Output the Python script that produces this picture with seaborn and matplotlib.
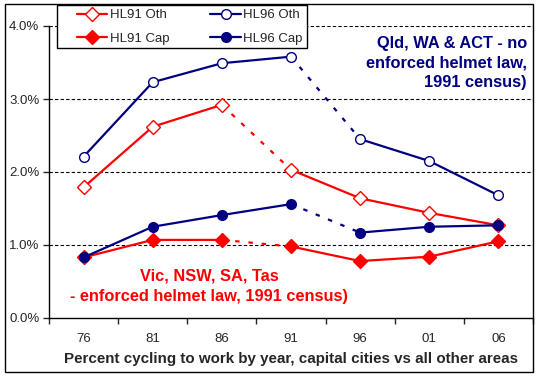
import pandas as pd
import matplotlib
matplotlib.use('Agg')
import matplotlib.pyplot as plt
from matplotlib.lines import Line2D
from matplotlib.patches import Rectangle
import seaborn as sns

# census years and percent cycling to work
years = ['76', '81', '86', '91', '96', '01', '06']
hl91_oth = [1.79, 2.62, 2.92, 2.03, 1.64, 1.44, 1.27]
hl96_oth = [2.21, 3.23, 3.49, 3.58, 2.45, 2.15, 1.68]
hl91_cap = [0.83, 1.07, 1.07, 0.98, 0.78, 0.84, 1.05]
hl96_cap = [0.83, 1.25, 1.41, 1.56, 1.17, 1.25, 1.27]

RED = '#ff0000'
NAVY = '#000080'

sns.set_style('white')
plt.rcParams['font.family'] = ['Liberation Sans', 'DejaVu Sans']

W, H = 539, 379
fig = plt.figure(figsize=(W / 100, H / 100), dpi=100)
ax = fig.add_axes([49 / W, 1 - 318 / H, 484 / W, 292 / H])

pos = list(range(len(years)))

# (name, values, colour, marker, filled, index where the dashed gap starts)
series = [
    ('HL91 Oth', hl91_oth, RED, 'D', False, 2),
    ('HL91 Cap', hl91_cap, RED, 'D', True, 2),
    ('HL96 Oth', hl96_oth, NAVY, 'o', False, 3),
    ('HL96 Cap', hl96_cap, NAVY, 'o', True, 3),
]

handles = []
for name, vals, col, mk, filled, gap in series:
    df = pd.DataFrame({'pos': pos, 'val': vals})
    mfc = col if filled else 'white'
    kw = dict(color=col, lw=1.6, marker=mk, markersize=7,
              markerfacecolor=mfc, markeredgecolor=col, markeredgewidth=1.0)
    sns.lineplot(data=df.iloc[:gap + 1], x='pos', y='val', ax=ax, zorder=3, **kw)
    sns.lineplot(data=df.iloc[gap:gap + 2], x='pos', y='val', ax=ax, color=col,
                 lw=1.6, linestyle=(0, (2, 4)), zorder=2)
    sns.lineplot(data=df.iloc[gap + 1:], x='pos', y='val', ax=ax, zorder=3, **kw)
    handles.append(Line2D([], [], label=name, **kw))

ax.set_xlim(-0.5, len(years) - 0.5)
ax.set_ylim(0, 4)
ax.set_yticks([0, 1, 2, 3, 4])
ax.set_yticklabels(['0.0%', '1.0%', '2.0%', '3.0%', '4.0%'])
ax.set_xticks(pos)
ax.set_xticklabels(years)
ax.set_xticks([p - 0.5 for p in pos] + [len(years) - 0.5], minor=True)
ax.tick_params(axis='x', which='major', length=0, pad=11, labelsize=9.5)
ax.tick_params(axis='x', which='minor', length=4, width=1, direction='out', bottom=True)
ax.tick_params(axis='y', length=4, width=1, direction='out', left=True, labelsize=9.5, pad=3)

for v in [1, 2, 3, 4]:
    ax.axhline(v, color='black', lw=0.8, linestyle=(0, (3, 2)), zorder=1)

for s in ['top', 'right']:
    ax.spines[s].set_visible(False)
for s in ['left', 'bottom']:
    ax.spines[s].set_color('black')
    ax.spines[s].set_linewidth(1)

ax.set_xlabel('Percent cycling to work by year, capital cities vs all other areas',
              fontsize=10.9, fontweight='bold', labelpad=5)
ax.set_ylabel('')

# legend without its own frame, box drawn separately
leg = fig.legend(handles=handles, ncol=2, loc='upper left',
                 bbox_to_anchor=(77 / W, 1 - 9 / H), fontsize=9.5, frameon=False,
                 handlelength=2.3, columnspacing=3.1, labelspacing=0.85,
                 borderpad=0, handletextpad=0.2, borderaxespad=0)
fig.patches.append(Rectangle((57 / W, 1 - 48 / H), 250 / W, 43 / H, fill=True,
                             facecolor='white', edgecolor='black', lw=1,
                             transform=fig.transFigure, zorder=4))
leg.set_zorder(5)

fig.text(527 / W, 1 - 63 / H, 'Qld, WA & ACT - no\nenforced helmet law,\n1991 census)',
         ha='right', va='center', color=NAVY, fontsize=11.8, fontweight='bold',
         linespacing=1.38)
fig.text(209 / W, 1 - 286 / H, 'Vic, NSW, SA, Tas\n- enforced helmet law, 1991 census)',
         ha='center', va='center', color=RED, fontsize=11.8, fontweight='bold',
         linespacing=1.45, multialignment='center')

fig.patches.append(Rectangle((5 / W, 1 - 372 / H), 528 / W, 368 / H, fill=False,
                             edgecolor='black', lw=1, transform=fig.transFigure))

fig.savefig('out.png', dpi=100)
